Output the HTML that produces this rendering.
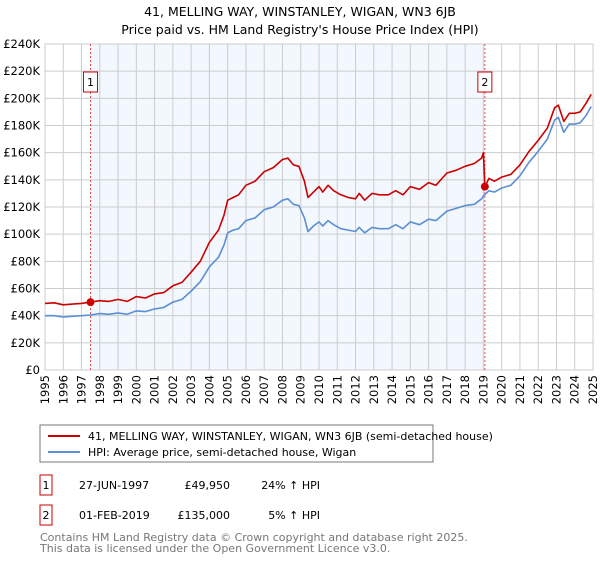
<!DOCTYPE html>
<html><head><meta charset="utf-8"><style>
body{margin:0;background:#fff;font-family:"Liberation Sans","DejaVu Sans",sans-serif;}
svg text{font-family:"DejaVu Sans","Liberation Sans",sans-serif;}
</style></head><body>
<svg id="c" width="600" height="560" xmlns="http://www.w3.org/2000/svg">
<text x="300" y="16" text-anchor="middle" font-size="12.5">41, MELLING WAY, WINSTANLEY, WIGAN, WN3 6JB</text>
<text x="300" y="34" text-anchor="middle" font-size="12.5">Price paid vs. HM Land Registry's House Price Index (HPI)</text>
<g id="plot"></g>
<rect x="40" y="425" width="393" height="37" fill="#fff" stroke="#777"/>
<line x1="48" y1="436" x2="80" y2="436" stroke="#cc0000" stroke-width="2"/>
<text x="88" y="440" font-size="11">41, MELLING WAY, WINSTANLEY, WIGAN, WN3 6JB (semi-detached house)</text>
<line x1="48" y1="452" x2="80" y2="452" stroke="#5b8fd4" stroke-width="2"/>
<text x="88" y="456" font-size="11">HPI: Average price, semi-detached house, Wigan</text>
<rect x="40" y="475" width="12" height="20" fill="#fff" stroke="#cc0000"/>
<text x="46" y="489" text-anchor="middle" font-size="11">1</text>
<text x="79" y="489" font-size="11">27-JUN-1997</text>
<text x="230" y="489" text-anchor="end" font-size="11">£49,950</text>
<text x="320" y="489" text-anchor="end" font-size="11">24% ↑ HPI</text>
<rect x="40" y="505" width="12" height="20" fill="#fff" stroke="#cc0000"/>
<text x="46" y="519" text-anchor="middle" font-size="11">2</text>
<text x="79" y="519" font-size="11">01-FEB-2019</text>
<text x="230" y="519" text-anchor="end" font-size="11">£135,000</text>
<text x="320" y="519" text-anchor="end" font-size="11">5% ↑ HPI</text>
<text x="40" y="541" font-size="11" fill="#777">Contains HM Land Registry data © Crown copyright and database right 2025.</text>
<text x="40" y="552" font-size="11" fill="#777">This data is licensed under the Open Government Licence v3.0.</text>
</svg>
<script>
const yTicks=[0,20,40,60,80,100,120,140,160,180,200,220,240];
const yTickLabels=["£0","£20K","£40K","£60K","£80K","£100K","£120K","£140K","£160K","£180K","£200K","£220K","£240K"];
const xYears=[1995,1996,1997,1998,1999,2000,2001,2002,2003,2004,2005,2006,2007,2008,2009,2010,2011,2012,2013,2014,2015,2016,2017,2018,2019,2020,2021,2022,2023,2024,2025];
const hpiDates=[1995.0,1995.5,1996.0,1996.5,1997.0,1997.5,1998.0,1998.5,1999.0,1999.5,2000.0,2000.5,2001.0,2001.5,2002.0,2002.5,2003.0,2003.5,2004.0,2004.5,2004.8,2005.0,2005.3,2005.6,2006.0,2006.5,2007.0,2007.5,2008.0,2008.3,2008.6,2008.9,2009.2,2009.4,2009.7,2010.0,2010.2,2010.5,2010.8,2011.2,2011.6,2012.0,2012.2,2012.5,2012.9,2013.3,2013.8,2014.2,2014.6,2015.0,2015.5,2016.0,2016.4,2017.0,2017.5,2018.0,2018.5,2018.9,2019.0,2019.3,2019.6,2020.0,2020.5,2021.0,2021.5,2022.0,2022.5,2022.9,2023.1,2023.4,2023.7,2024.0,2024.3,2024.6,2024.9];
const hpiValues=[40,40,39,39.5,40,40.5,41.5,41,42,41,43.5,43,45,46,50,52,58,65,76,83,92,101,103,104,110,112,118,120,125,126,122,121,112,102,106,109,106,110,107,104,103,102,105,101,105,104,104,107,104,109,107,111,110,117,119,121,122,126,128,132,131,134,136,143,153,161,170,184,186,175,181,181,182,187,194];
const redDates=[1995.0,1995.5,1996.0,1996.5,1997.0,1997.5,1998.0,1998.5,1999.0,1999.5,2000.0,2000.5,2001.0,2001.5,2002.0,2002.5,2003.0,2003.5,2004.0,2004.5,2004.8,2005.0,2005.3,2005.6,2006.0,2006.5,2007.0,2007.5,2008.0,2008.3,2008.6,2008.9,2009.2,2009.4,2009.7,2010.0,2010.2,2010.5,2010.8,2011.2,2011.6,2012.0,2012.2,2012.5,2012.9,2013.3,2013.8,2014.2,2014.6,2015.0,2015.5,2016.0,2016.4,2017.0,2017.5,2018.0,2018.5,2018.9,2019.0,2019.08,2019.3,2019.6,2020.0,2020.5,2021.0,2021.5,2022.0,2022.5,2022.9,2023.1,2023.4,2023.7,2024.0,2024.3,2024.6,2024.9];
const redValues=[49,49.5,48,48.5,49,50,51,50.5,52,50.5,54,53,56,57,62,64.5,72,80,94,103,114,125,127,129,136,139,146,149,155,156,151,150,139,127,131,135,131,136,132,129,127,126,130,125,130,129,129,132,129,135,133,138,136,145,147,150,152,156,160,135,141,139,142,144,151,161,169,178,193,195,183,189,189,190,196,203];
const saleDates=[1997.49,2019.08];
const salePrices=[49.95,135];
const saleLabels=["1","2"];
const NS="http://www.w3.org/2000/svg";
const L=45,R=593,T=44,B=370;
const xs=d=>L+(d-1995)/30*(R-L);
const ys=v=>B-v/240*(B-T);
const g=document.getElementById('plot');
function mk(t,a){const e=document.createElementNS(NS,t);for(const k in a)e.setAttribute(k,a[k]);g.appendChild(e);return e;}
let e=mk('rect',{x:xs(saleDates[0]),y:T,width:xs(saleDates[1])-xs(saleDates[0]),height:B-T,fill:'#f3f7fe'});


yTicks.forEach((v,i)=>{
 let l=mk('line',{x1:L,x2:R,y1:ys(v),y2:ys(v),stroke:'#ccc'});
 
 
 let t=mk('text',{x:40,y:ys(v)+4,'text-anchor':'end','font-size':'11.5'});
 t.textContent=yTickLabels[i];
 
 
});
xYears.forEach(yr=>{
 let l=mk('line',{x1:xs(yr),x2:xs(yr),y1:T,y2:B,stroke:'#ccc'});
 
 
 let t=mk('text',{x:0,y:0,'text-anchor':'end','font-size':'11.5',transform:`translate(${xs(yr)+4},${B+5}) rotate(-90)`});
 t.textContent=yr;
 
 
});
let bx=mk('rect',{x:L,y:T,width:R-L,height:B-T,fill:'none',stroke:'#ccc'});


saleDates.forEach((d,i)=>{
 let l=mk('line',{x1:xs(d),x2:xs(d),y1:T,y2:B,stroke:'#e05050','stroke-dasharray':'2,2'});
 
 
});
function path(ds,vs,col,name){
 let p=mk('path',{d:ds.map((d,i)=>(i?'L':'M')+xs(d).toFixed(1)+','+ys(vs[i]).toFixed(1)).join(''),fill:'none',stroke:col,'stroke-width':1.6,'stroke-linejoin':'round'});
 
 
}
path(hpiDates,hpiValues,'#5b8fd4','hpi-line');
path(redDates,redValues,'#cc0000','property-price-line');
saleDates.forEach((d,i)=>{
 let c=mk('circle',{cx:xs(d),cy:ys(salePrices[i]),r:4,fill:'#cc0000'});
 
 
 let r=mk('rect',{x:xs(d)-7,y:72,width:14,height:20,fill:'#fff',stroke:'#cc0000'});
 
 
 let t=mk('text',{x:xs(d),y:86,'text-anchor':'middle','font-size':'11'});
 t.textContent=saleLabels[i];
 
 
});
</script>
</body></html>
